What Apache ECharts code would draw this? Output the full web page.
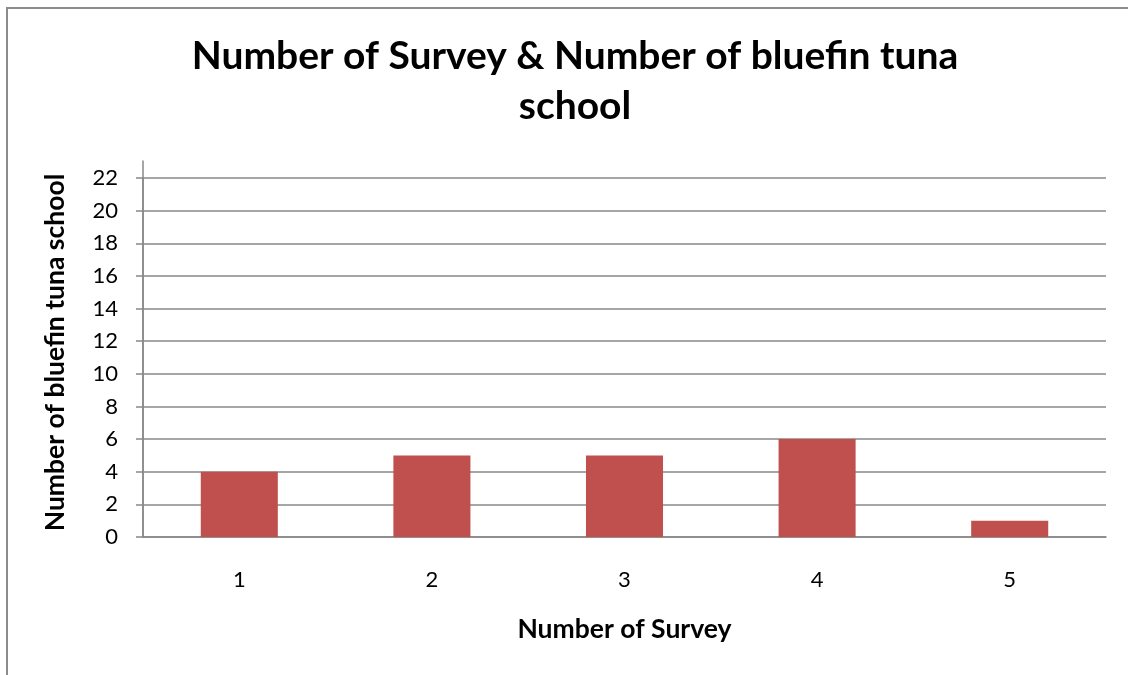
<!DOCTYPE html>
<html>
<head>
<meta charset="utf-8">
<script src="https://cdn.jsdelivr.net/npm/echarts@6/dist/echarts.min.js"></script>
<style>
  html, body { margin: 0; padding: 0; background: #fff; overflow: hidden; }
  #chart { width: 1128px; height: 675px; position: relative; }
  /* chart-area frame: only its top and left edges fall inside the view */
  #frame {
    position: absolute; left: 6px; top: 7px; width: 2000px; height: 2000px;
    border-left: 2px solid #8c8c8c; border-top: 2px solid #8c8c8c;
    pointer-events: none; z-index: 5;
  }
</style>
</head>
<body>
<div id="chart"></div>
<div id="frame"></div>
<script>
// Survey number and the count of bluefin tuna schools seen in it
const surveys = ['1', '2', '3', '4', '5'];
const tunaSchools = [4, 5, 5, 6, 1];
const yTicks = { min: 0, max: 22, step: 2 };

const chartTitle = 'Number of Survey & Number of bluefin tuna\nschool';
const xAxisTitle = 'Number of Survey';
const yAxisTitle = 'Number of bluefin tuna school';

const FONT = 'Lato, "Open Sans", sans-serif';
const GRID_LINE = '#888888';

const chart = echarts.init(document.getElementById('chart'));
chart.setOption({
  animation: false,
  title: {
    text: chartTitle,
    left: 570,
    top: 26,
    textAlign: 'center',
    textStyle: { fontFamily: FONT, fontSize: 39, fontWeight: 'bold', color: '#000', lineHeight: 50 }
  },
  grid: [
    { left: 143, right: 22, top: 178, bottom: 138 },
    // taller copy of the plot box: carries only the upper stretch of the value-axis line
    { left: 143, right: 22, top: 161, bottom: 138 }
  ],
  xAxis: [
    {
      type: 'category',
      gridIndex: 0,
      data: surveys,
      name: xAxisTitle,
      nameLocation: 'middle',
      nameGap: 79,
      nameTextStyle: { fontFamily: FONT, fontSize: 26.5, fontWeight: 'bold', color: '#000' },
      axisLine: { show: true, lineStyle: { color: GRID_LINE, width: 1.5 } },
      axisTick: { show: false },
      axisLabel: { margin: 32, fontFamily: FONT, fontSize: 22, color: '#000' }
    },
    { type: 'category', gridIndex: 1, data: surveys, show: false }
  ],
  yAxis: [
    {
      type: 'value',
      gridIndex: 0,
      min: yTicks.min,
      max: yTicks.max,
      interval: yTicks.step,
      name: yAxisTitle,
      nameLocation: 'middle',
      nameGap: 74,
      nameRotate: 90,
      nameTextStyle: { fontFamily: FONT, fontSize: 26.5, fontWeight: 'bold', color: '#000', padding: [0, 0, 0, 10] },
      axisLine: { show: true, lineStyle: { color: GRID_LINE, width: 1.5 } },
      axisTick: { show: true, inside: false, length: 7, lineStyle: { color: GRID_LINE, width: 1.5 } },
      axisLabel: { margin: 25, fontFamily: FONT, fontSize: 22, color: '#000' },
      splitLine: { show: true, lineStyle: { color: GRID_LINE, width: 1.5 } }
    },
    {
      type: 'value',
      gridIndex: 1,
      min: 0,
      max: 1,
      axisLine: { show: true, lineStyle: { color: GRID_LINE, width: 1.5 } },
      axisTick: { show: false },
      axisLabel: { show: false },
      splitLine: { show: false }
    }
  ],
  series: [
    {
      type: 'bar',
      xAxisIndex: 0,
      yAxisIndex: 0,
      data: tunaSchools,
      barWidth: '40%',
      itemStyle: { color: '#c0504d' }
    }
  ]
});
</script>
</body>
</html>
